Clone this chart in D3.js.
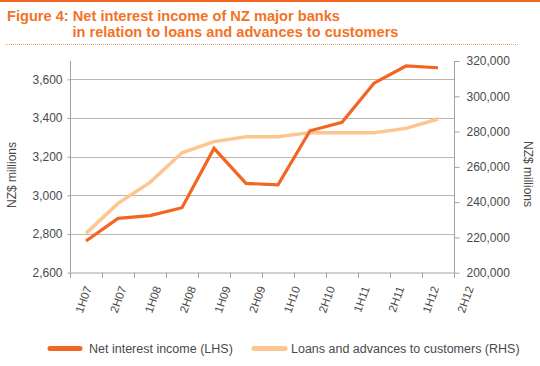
<!DOCTYPE html>
<html>
<head>
<meta charset="utf-8">
<script src="https://cdn.jsdelivr.net/npm/d3@7"></script>
<style>
  html, body { margin: 0; padding: 0; background: #fff; }
  svg { display: block; font-family: "Liberation Sans", Arial, Helvetica, sans-serif; }
</style>
</head>
<body>
<svg id="chart" width="540" height="366"></svg>
<script>
// ---- data ----
const periods = ["1H07","2H07","1H08","2H08","1H09","2H09","1H10","2H10","1H11","2H11","1H12","2H12"];
const netInterestIncome = [2764, 2881, 2895, 2936, 3243, 3062, 3054, 3334, 3378, 3580, 3669, 3660];
const loansAdvances = [222300, 239300, 251200, 268000, 274300, 277100, 277100, 279400, 279400, 279400, 281800, 287100];
const leftTicks = [2600, 2800, 3000, 3200, 3400, 3600];
const rightTicks = [200000, 220000, 240000, 260000, 280000, 300000, 320000];
const titleLines = ["Figure 4: Net interest income of NZ major banks", "in relation to loans and advances to customers"];
const axisTitle = "NZ$ millions";
const legendLabels = ["Net interest income (LHS)", "Loans and advances to customers (RHS)"];

// ---- styles ----
const ORANGE = "#f26522";
const LIGHT = "#fdc690";
const TITLE = "#f37326";
const AXIS = "#aaa197";
const GRID = "#bdb5ac";
const TEXT = "#4a4a4a";

const svg = d3.select("#chart");
const X0 = 70, X1 = 454, YB = 272.7;

const x = d3.scaleBand().domain(periods).range([X0, X1]).paddingInner(0).paddingOuter(0);
const yL = d3.scaleLinear().domain([2600, 3700]).range([YB, 60]);
const yR = d3.scaleLinear().domain([200000, 320000]).range([YB, 61]);
const labelX = d3.scalePoint().domain(periods).range([X0 + 15, X1 + 13]);

// top rule
svg.append("rect").attr("x", 0).attr("y", 0).attr("width", 540).attr("height", 2).attr("fill", ORANGE);

// title
titleLines.forEach((t, i) => {
  svg.append("text")
    .attr("x", i === 0 ? 7 : 72.5)
    .attr("y", i === 0 ? 20.5 : 37.3)
    .attr("fill", TITLE)
    .attr("font-family", "'Liberation Sans Narrow', 'Arial Narrow', 'Liberation Sans', Arial, sans-serif")
    .attr("font-weight", "bold")
    .attr("font-size", 15.5)
    .attr("textLength", i === 0 ? 333 : 326)
    .attr("lengthAdjust", "spacingAndGlyphs")
    .text(t);
});

// dotted rule
svg.append("line").attr("x1", 5).attr("x2", 519).attr("y1", 44.5).attr("y2", 44.5)
  .attr("stroke", "#f5a06a").attr("stroke-width", 1).attr("stroke-dasharray", "1,1");

// gridlines
svg.append("g").selectAll("line").data(leftTicks.slice(1)).join("line")
  .attr("x1", X0).attr("x2", X1)
  .attr("y1", d => Math.round(yL(d)) + 0.5).attr("y2", d => Math.round(yL(d)) + 0.5)
  .attr("stroke", GRID).attr("stroke-width", 1);

// left axis
const gL = svg.append("g").attr("transform", `translate(${X0 + 0.5},0)`)
  .call(d3.axisLeft(yL).tickValues(leftTicks).tickSize(3).tickSizeOuter(0).tickFormat(d3.format(",")));
gL.select(".domain").attr("stroke", AXIS).attr("d", `M0,61V${YB + 5}`);
gL.selectAll(".tick line").attr("stroke", AXIS);
gL.selectAll(".tick text").attr("fill", TEXT).attr("font-size", 12).attr("x", -8)
  .attr("font-family", "'Liberation Sans', Arial, sans-serif");

// right axis
const gR = svg.append("g").attr("transform", `translate(${X1 + 0.5},0)`)
  .call(d3.axisRight(yR).tickValues(rightTicks).tickSize(5).tickSizeOuter(0).tickFormat(d3.format(",")));
gR.select(".domain").attr("stroke", AXIS).attr("d", `M0,${yR(320000)}V${YB + 5}`);
gR.selectAll(".tick line").attr("stroke", AXIS);
gR.selectAll(".tick text").attr("fill", TEXT).attr("font-size", 12).attr("x", 12)
  .attr("font-family", "'Liberation Sans', Arial, sans-serif");

// bottom axis
const tickPos = periods.map(p => x(p)).concat([X1]);
const gB = svg.append("g");
gB.append("line").attr("x1", X0).attr("x2", X1).attr("y1", YB + 0.3).attr("y2", YB + 0.3)
  .attr("stroke", AXIS).attr("stroke-width", 1);
gB.selectAll("line.t").data(tickPos).join("line").attr("class", "t")
  .attr("x1", d => Math.round(d) + 0.5).attr("x2", d => Math.round(d) + 0.5)
  .attr("y1", YB).attr("y2", YB + 5).attr("stroke", AXIS);
gB.selectAll("text").data(periods).join("text")
  .attr("transform", d => `translate(${labelX(d) + 7},288) rotate(-70)`)
  .attr("text-anchor", "end")
  .attr("fill", TEXT).attr("font-size", 11.5)
  .text(d => d);

// axis titles
svg.append("text").attr("transform", "translate(16,175) rotate(-90)")
  .attr("text-anchor", "middle").attr("fill", TEXT).attr("font-size", 12).text(axisTitle);
svg.append("text").attr("transform", "translate(524,174) rotate(90)")
  .attr("text-anchor", "middle").attr("fill", TEXT).attr("font-size", 12).text(axisTitle);

// lines
const cx = d => x(d) + x.bandwidth() / 2;
const lineL = d3.line().x(d => cx(d[0])).y(d => yL(d[1]));
const lineR = d3.line().x(d => cx(d[0])).y(d => yR(d[1]));

svg.append("path").datum(periods.map((p, i) => [p, loansAdvances[i]]))
  .attr("d", lineR).attr("fill", "none").attr("stroke", LIGHT)
  .attr("stroke-width", 3.5).attr("stroke-linejoin", "miter");
svg.append("path").datum(periods.map((p, i) => [p, netInterestIncome[i]]))
  .attr("d", lineL).attr("fill", "none").attr("stroke", ORANGE)
  .attr("stroke-width", 3.2).attr("stroke-linejoin", "miter");

// legend
const legend = [
  { label: legendLabels[0], color: ORANGE, x1: 50, x2: 80, tx: 89 },
  { label: legendLabels[1], color: LIGHT, x1: 254, x2: 285, tx: 291 }
];
const lg = svg.append("g");
legend.forEach(l => {
  lg.append("line").attr("x1", l.x1).attr("x2", l.x2).attr("y1", 348.5).attr("y2", 348.5)
    .attr("stroke", l.color).attr("stroke-width", 5).attr("stroke-linecap", "round");
  lg.append("text").attr("x", l.tx).attr("y", 353).attr("fill", TEXT).attr("font-size", 12.5).text(l.label);
});
</script>
</body>
</html>
